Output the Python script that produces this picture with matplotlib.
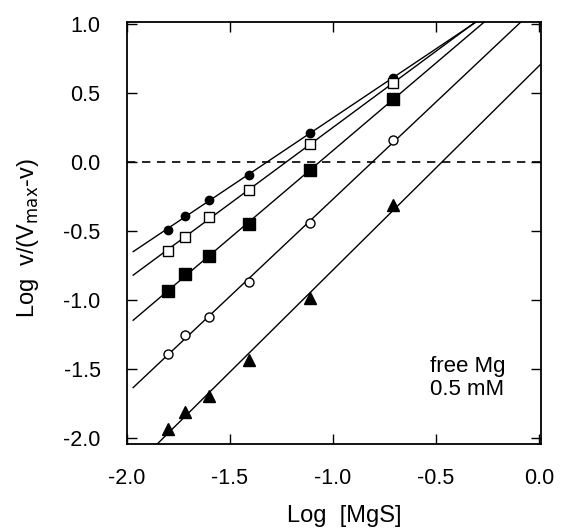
import numpy as np
import matplotlib.pyplot as plt

plt.rcParams['font.family'] = ['Liberation Sans', 'DejaVu Sans']

# Log [MgS] values (same for every series)
log_mgs = np.array([-1.80, -1.72, -1.60, -1.41, -1.11, -0.71])

# Log v/(Vmax-v) for each series
filled_circles = np.array([-0.49, -0.39, -0.27, -0.09, 0.21, 0.61])
open_squares = np.array([-0.64, -0.54, -0.40, -0.20, 0.13, 0.57])
filled_squares = np.array([-0.93, -0.81, -0.68, -0.45, -0.06, 0.46])
open_circles = np.array([-1.39, -1.25, -1.12, -0.87, -0.44, 0.16])
triangles = np.array([-1.93, -1.81, -1.69, -1.43, -0.98, -0.31])

series = [
    (filled_circles, 'o', 'black', 6),
    (open_squares, 's', 'white', 7),
    (filled_squares, 's', 'black', 8.5),
    (open_circles, 'o', 'white', 6.5),
    (triangles, '^', 'black', 8.5),
]

W, H = 561, 532
fig = plt.figure(figsize=(W / 100, H / 100), dpi=100)
ax = fig.add_axes([127 / W, 1 - 444 / H, 414 / W, 422 / H])

xfit = np.array([-1.97, 0.05])
for y, marker, face, size in series:
    slope, icpt = np.polyfit(log_mgs, y, 1)
    ax.plot(xfit, slope * xfit + icpt, color='black', lw=1.0, zorder=2)
    ax.plot(log_mgs, y, linestyle='none', marker=marker, ms=size,
            mfc=face, mec='black', mew=1.0, zorder=3)

ax.axhline(0.0, color='black', lw=1.2, ls=(0, (5, 4)), zorder=1)

ax.set_xlim(-2.0, 0.01)
ax.set_ylim(-2.04, 1.015)
ax.set_xticks(np.arange(-2.0, 0.01, 0.5))
ax.set_yticks(np.arange(-2.0, 1.01, 0.5))
ax.set_xticklabels(['-2.0', '-1.5', '-1.0', '-0.5', '0.0'])
ax.set_yticklabels(['-2.0', '-1.5', '-1.0', '-0.5', '0.0', '0.5', '1.0'])
ax.tick_params(direction='in', length=7, width=1.0, labelsize=15.5,
               top=True, right=True)
ax.tick_params(axis='y', pad=19)
ax.tick_params(axis='x', pad=17)
for s in ax.spines.values():
    s.set_linewidth(1.3)

fig.text(344 / W, 1 - 516 / H, 'Log  [MgS]', fontsize=17,
         ha='center', va='center')
fig.text(28 / W, 1 - 238 / H, 'Log  v/(V$_{\\mathrm{max}}$-v)', fontsize=17,
         ha='center', va='center', rotation=90)

fig.text(430 / W, 1 - 378 / H, 'free Mg\n0.5 mM', fontsize=16,
         ha='left', va='center', linespacing=1.15)

fig.savefig('out.png', dpi=100)
